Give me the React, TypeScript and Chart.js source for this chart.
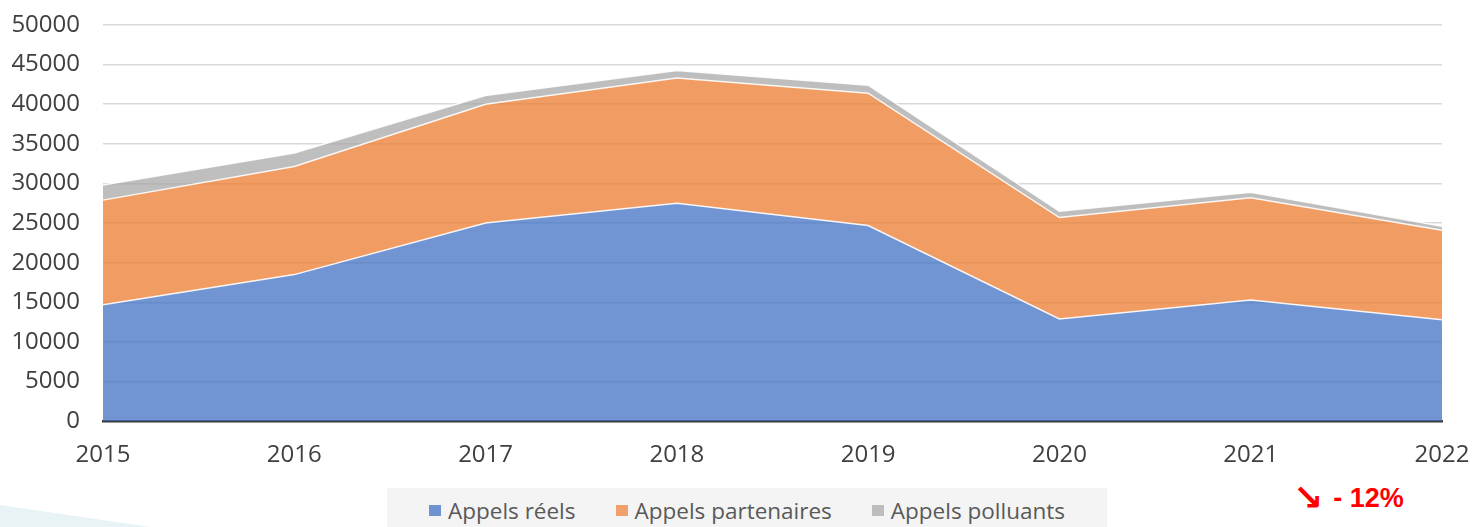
import React, { useEffect, useRef } from "react";
import { Chart, registerables } from "chart.js";

Chart.register(...registerables);

const years = ["2015", "2016", "2017", "2018", "2019", "2020", "2021", "2022"];
const appelsReels = [14700, 18500, 25000, 27500, 24700, 12900, 15300, 12800];
const appelsPartenaires = [13200, 13650, 15000, 15800, 16700, 12800, 12900, 11300];
const appelsPolluants = [1900, 1700, 1100, 950, 1000, 800, 700, 500];
const seriesNames = ["Appels réels", "Appels partenaires", "Appels polluants"];
const seriesColors = ["rgba(68,114,196,0.76)", "rgba(237,125,49,0.76)", "rgba(165,165,165,0.72)"];
const legendColors = ["#6f92d0", "#f0a06a", "#bdbdbd"];
const yTicks = [0, 5000, 10000, 15000, 20000, 25000, 30000, 35000, 40000, 45000, 50000];
const variationArrow = "↘";
const variationText = "- 12%";

const FONT = "'Open Sans', 'DejaVu Sans', sans-serif";

export default function App() {
  const ref = useRef<HTMLCanvasElement | null>(null);

  useEffect(() => {
    if (!ref.current) return;
    const values = [appelsReels, appelsPartenaires, appelsPolluants];
    const chart = new Chart(ref.current, {
      type: "line",
      data: {
        labels: years,
        datasets: values.map((v, i) => ({
          label: seriesNames[i],
          data: v,
          backgroundColor: seriesColors[i],
          borderColor: "rgba(255,255,255,0.9)",
          borderWidth: 1.5,
          fill: i === 0 ? "origin" : "-1",
          pointRadius: 0,
          tension: 0,
        })),
      },
      options: {
        animation: false,
        responsive: false,
        maintainAspectRatio: false,
        layout: { padding: { top: 25, right: 31, bottom: 57, left: 0 } },
        plugins: { legend: { display: false }, tooltip: { enabled: false } },
        scales: {
          x: {
            offset: false,
            z: 1,
            grid: { display: true, color: "rgba(0,0,0,0)", drawTicks: true, tickLength: 20, tickColor: "rgba(0,0,0,0)" },
            border: { display: true, color: "#3a3a3a", width: 2.5 },
            ticks: {
              color: "#404040",
              font: { family: FONT, size: 24 },
              padding: 0,
              maxRotation: 0,
              autoSkip: false,
            },
          },
          y: {
            stacked: true,
            min: 0,
            max: 50000,
            afterBuildTicks: (scale: any) => {
              scale.ticks = yTicks.map((v) => ({ value: v }));
            },
            afterFit: (scale: any) => {
              scale.width = 103;
            },
            grid: { color: "#d9d9d9", lineWidth: 1.5, drawTicks: true, tickLength: 23, tickColor: "rgba(0,0,0,0)" },
            border: { display: false },
            ticks: {
              color: "#404040",
              font: { family: FONT, size: 24 },
              padding: 0,
              callback: (v: any) => String(v),
            },
          },
        },
      },
    });
    return () => chart.destroy();
  }, []);

  return (
    <div style={{ position: "absolute", left: 0, top: 0, width: 1473, height: 527, overflow: "hidden", background: "#fff" }}>
      <svg width={1473} height={527} style={{ position: "absolute", left: 0, top: 0 }}>
        <polygon points="0,505 150,527 0,527" fill="#e7f3f5" />
      </svg>
      <div
        style={{
          position: "absolute",
          left: 387,
          top: 488,
          width: 720,
          height: 39,
          background: "#f4f4f4",
          display: "flex",
          alignItems: "center",
          justifyContent: "center",
          gap: 40,
          paddingTop: 6,
          boxSizing: "border-box",
          fontFamily: FONT,
          fontSize: 22.5,
          color: "#595959",
          whiteSpace: "nowrap",
        }}
      >
        {seriesNames.map((n, i) => (
          <div key={n} style={{ display: "flex", alignItems: "center", gap: 7 }}>
            <span style={{ display: "inline-block", width: 12, height: 11, background: legendColors[i] }} />
            <span>{n}</span>
          </div>
        ))}
      </div>
      <div
        style={{
          position: "absolute",
          left: 1293,
          top: 478,
          fontFamily: "'Liberation Sans', 'DejaVu Sans', sans-serif",
          fontWeight: "bold",
          fontSize: 27,
          color: "#ff0000",
          whiteSpace: "nowrap",
          display: "flex",
          alignItems: "center",
          gap: 10,
        }}
      >
        <span style={{ fontFamily: "'DejaVu Sans', sans-serif", fontSize: 36, lineHeight: "40px" }}>{variationArrow}</span>
        <span>{variationText}</span>
      </div>
      <canvas ref={ref} width={1473} height={527} style={{ position: "absolute", left: 0, top: 0 }} />
    </div>
  );
}
